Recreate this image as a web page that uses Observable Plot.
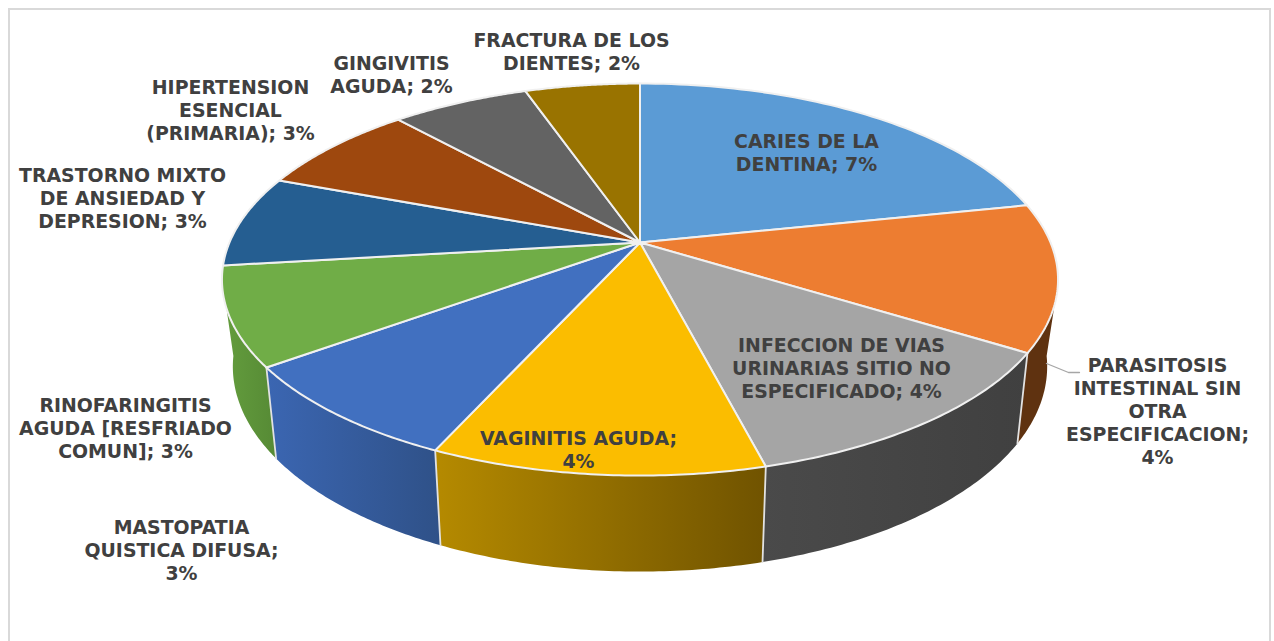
<!DOCTYPE html>
<html>
<head>
<meta charset="utf-8">
<script src="https://cdn.jsdelivr.net/npm/d3@7"></script>
<script src="https://cdn.jsdelivr.net/npm/@observablehq/plot@0.6"></script>
<style>html,body{margin:0;padding:0;background:#fff;overflow:hidden}svg{display:block}</style>
</head>
<body>
<div id="chart"></div>
<script>
// Categories, clockwise from 12 o'clock
const categories = [
  "CARIES DE LA\nDENTINA; 7%",
  "PARASITOSIS\nINTESTINAL SIN\nOTRA\nESPECIFICACION;\n4%",
  "INFECCION DE VIAS\nURINARIAS SITIO NO\nESPECIFICADO; 4%",
  "VAGINITIS AGUDA;\n4%",
  "MASTOPATIA\nQUISTICA DIFUSA;\n3%",
  "RINOFARINGITIS\nAGUDA [RESFRIADO\nCOMUN]; 3%",
  "TRASTORNO MIXTO\nDE ANSIEDAD Y\nDEPRESION; 3%",
  "HIPERTENSION\nESENCIAL\n(PRIMARIA); 3%",
  "GINGIVITIS\nAGUDA; 2%",
  "FRACTURA DE LOS\nDIENTES; 2%"
];
// Slice sizes
const shares = [78.2, 43.6, 43.7, 38.9, 29.6, 29.2, 27.3, 27.3, 23.0, 19.2];
const topColors = ["#5b9bd5","#ed7d31","#a5a5a5","#fbbd00","#4170c0","#70ad47","#255e91","#9e480e","#636363","#997300"];
const wallFrom  = [null,"#5f3210","#4a4a4a","#b58a00","#3b66b2","#639c3d",null,null,null,null];
const wallTo    = [null,"#5f3210","#404040","#705300","#2f5188","#568a35",null,null,null,null];
// Label layout (block centres, chart pixels)
const labelX = [806,1157,841,578,181,125,122,230,391,571];
const labelY = [152,410,367,449,549,427,197,109,73.5,51];

// Pie geometry: perspective disc
const apexX = 639.5, apexY = 242, persp = 0.189, radX = 410.5, radY = 189;
const rimCy = 279, lowCy = 366, lowSx = 0.974, lowSy = 1.046;
const upper = t => {
  const u = Math.sin(t), v = Math.cos(t), w = 1 + persp * v;
  return {x: apexX + radX * u / w, y: apexY - radY * v / w};
};
const lower = t => {
  const p = upper(t);
  return {x: apexX + (p.x - apexX) * lowSx, y: lowCy + (p.y - rimCy) * lowSy};
};
const rad = d => d * Math.PI / 180;
const arc = (f, a, b) => d3.range(0, 61).map(k => f(a + (b - a) * k / 60));
const total = d3.sum(shares);
let acc = 0;
const slices = shares.map((s, i) => {
  const a0 = acc / total * 2 * Math.PI;
  acc += s;
  return {i, a0, a1: acc / total * 2 * Math.PI};
});

// The outer wall edges follow the silhouette between the two rims
const silhouetteRight = {upper: rad(108), lower: rad(98)};
const silhouetteLeft = {upper: rad(251), lower: rad(262)};

const defs = () => {
  const d = d3.create("svg:defs");
  wallFrom.forEach((c, i) => {
    if (!c) return;
    const g = d.append("linearGradient").attr("id", "wall" + i);
    g.append("stop").attr("offset", "0%").attr("stop-color", c);
    g.append("stop").attr("offset", "100%").attr("stop-color", wallTo[i]);
  });
  return d.node();
};

const wallSlices = slices.filter(s => wallFrom[s.i]);
const wallMarks = wallSlices.map((s, n) => {
  const first = n === 0, last = n === wallSlices.length - 1;
  const uA = first ? silhouetteRight.upper : s.a0, lA = first ? silhouetteRight.lower : s.a0;
  const uB = last ? silhouetteLeft.upper : s.a1, lB = last ? silhouetteLeft.lower : s.a1;
  const pts = [...arc(upper, uA, uB), ...arc(lower, lB, lA)];
  return Plot.line(pts, {x: "x", y: "y", fill: `url(#wall${s.i})`, stroke: "none"});
});
const dividerMarks = wallSlices.slice(1).map(s =>
  Plot.line([upper(s.a0), lower(s.a0)], {x: "x", y: "y", stroke: "#e2e2e2", strokeWidth: 1.8})
);
const topMarks = slices.map(s => {
  const apex = {x: apexX, y: apexY};
  return Plot.line([apex, ...arc(upper, s.a0, s.a1), apex], {x: "x", y: "y", fill: topColors[s.i], stroke: "#f0f0f0", strokeWidth: 2, strokeLinejoin: "round"});
});

const labels = categories.map((text, i) => ({text, x: labelX[i], y: labelY[i]}));

const chart = Plot.plot({
  width: 1274,
  height: 641,
  margin: 0,
  x: {domain: [0, 1274], range: [0, 1274], axis: null},
  y: {domain: [0, 641], range: [0, 641], axis: null},
  style: {background: "#fff"},
  marks: [
    defs,
    Plot.rect([{x1: 9, x2: 1270, y1: 9, y2: 680}], {x1: "x1", x2: "x2", y1: "y1", y2: "y2", fill: "#fff", stroke: "#d9d9d9", strokeWidth: 2, clip: true}),
    ...wallMarks,
    ...dividerMarks,
    ...topMarks,
    Plot.line([{x: 1046, y: 363}, {x: 1068, y: 372}, {x: 1079, y: 372}], {x: "x", y: "y", stroke: "#a6a6a6", strokeWidth: 1.3}),
    Plot.text(labels, {
      x: "x", y: "y", text: "text",
      fontFamily: "DejaVu Sans", fontWeight: "bold", fontSize: 18.9, lineHeight: 1.214,
      fill: "#404040", textAnchor: "middle", lineAnchor: "middle"
    })
  ]
});
document.getElementById("chart").append(chart);
</script>
</body>
</html>
